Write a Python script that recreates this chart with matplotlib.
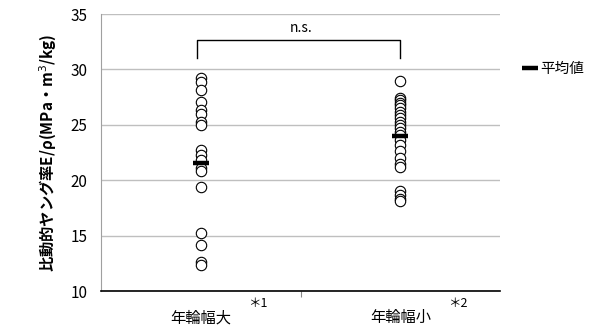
import matplotlib.pyplot as plt
import numpy as np

plt.rcParams["font.family"] = ["Noto Sans CJK JP", "DejaVu Sans"]

groups = ["年輪幅大", "年輪幅小"]
notes = ["＊1", "＊2"]

wide_ring = [29.2, 28.9, 28.1, 27.1, 26.3, 26.0, 25.3, 25.0, 22.7, 22.3,
             21.8, 21.1, 20.8, 19.4, 15.2, 14.2, 12.6, 12.4]
narrow_ring = [29.0, 27.4, 27.2, 27.0, 26.8, 26.5, 26.2, 25.9, 25.6, 25.3,
               25.0, 24.7, 24.4, 24.1, 23.6, 23.2, 22.6, 22.0, 21.5, 21.2,
               19.0, 18.7, 18.3, 18.1]
means = [21.6, 24.0]

fig = plt.figure(figsize=(6.13, 3.26), dpi=100)
ax = fig.add_axes([0.165, 0.107, 0.651, 0.85])

for i, vals in enumerate([wide_ring, narrow_ring]):
    x = np.full(len(vals), i + 1)
    ax.plot(x, vals, linestyle="none", marker="o", ms=7.5,
            mfc="white", mec="black", mew=0.8, zorder=3)

ax.plot([1, 2], means, linestyle="none", marker="_", ms=12, mew=3.2,
        color="black", zorder=4, label="平均値")

ax.set_xlim(0.5, 2.5)
ax.set_ylim(10, 35)
ax.set_yticks(np.arange(10, 36, 5))
ax.set_xticks([1.5])
ax.set_xticklabels([""])
ax.tick_params(axis="x", length=4, width=0.8, color="#888888")
ax.tick_params(axis="y", length=0, labelsize=11, pad=10)
ax.grid(axis="y", color="#bfbfbf", linewidth=1)
ax.set_axisbelow(True)

for side in ["top", "right"]:
    ax.spines[side].set_visible(False)
ax.spines["left"].set_color("#a0a0a0")
ax.spines["bottom"].set_color("black")
ax.spines["bottom"].set_linewidth(1.2)

# group names under the axis with their footnote marks
for i, (name, note) in enumerate(zip(groups, notes)):
    ax.annotate(name, (i + 1, 10), xytext=(0, -13), textcoords="offset points",
                ha="center", va="top", fontsize=11, annotation_clip=False)
    ax.annotate(note, (i + 1, 10), xytext=(34, -4), textcoords="offset points",
                ha="left", va="top", fontsize=9, annotation_clip=False)

# significance bracket
ax.plot([0.98, 0.98, 2, 2], [31.0, 32.7, 32.7, 31.0], color="black", lw=1, zorder=2)
ax.text(1.5, 33.1, "n.s.", ha="center", va="bottom", fontsize=10)

ax.set_ylabel("比動的ヤング率E/ρ(MPa・m$^3$/kg)", fontsize=11, fontweight="bold", labelpad=8)

ax.legend(loc="center left", bbox_to_anchor=(1.03, 0.8), frameon=False,
          fontsize=10.5, handlelength=0.7, handletextpad=0.3)

fig.savefig("out.png", dpi=100)
